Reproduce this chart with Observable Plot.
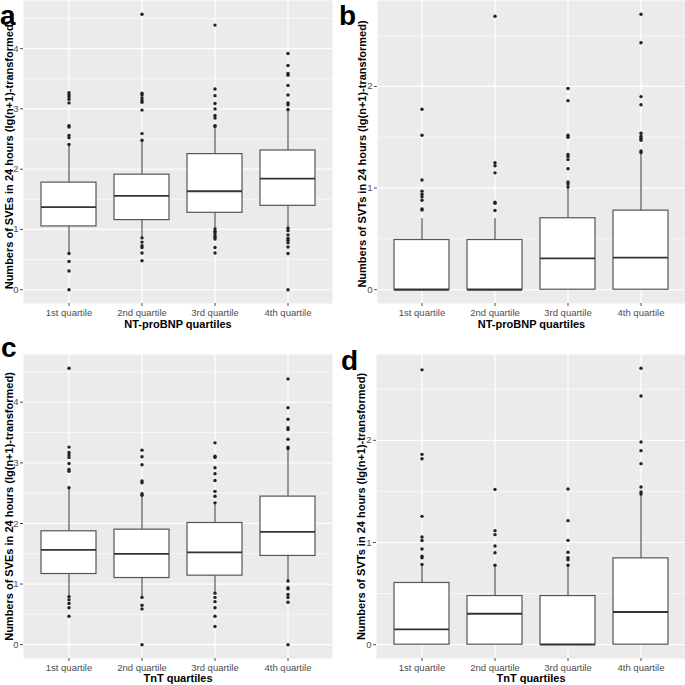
<!DOCTYPE html>
<html><head><meta charset="utf-8">
<script src="https://cdn.jsdelivr.net/npm/d3@7"></script>
<script src="https://cdn.jsdelivr.net/npm/@observablehq/plot@0.6"></script>
<style>
body{margin:0;background:#fff;}
#fig{position:relative;width:685px;height:685px;overflow:hidden;font-family:"Liberation Sans",Arial,sans-serif;}
.panel{position:absolute;}
.tag{position:absolute;font:bold 28px "Liberation Sans",Arial,sans-serif;color:#000;line-height:1.15;}
</style></head><body>
<div id="fig"></div>
<script>
const quartiles = ["1st quartile", "2nd quartile", "3rd quartile", "4th quartile"];
const sveTicks = [0, 1, 2, 3, 4];
const sveMinorTicks = [0.5, 1.5, 2.5, 3.5, 4.5];
const svtTicks = [0, 1, 2];
const svtMinorTicks = [0.5, 1.5, 2.5];
const sveTitle = "Numbers of SVEs in 24 hours (lg(n+1)-transformed)";
const svtTitle = "Numbers of SVTs in 24 hours (lg(n+1)-transformed)";
const bnpTitle = "NT-proBNP quartiles";
const tntTitle = "TnT quartiles";
const panelTags = ["a", "b", "c", "d"];

// a: SVEs by NT-proBNP quartiles
const aQ1 = [1.05, 1.155, 1.276, 1.392];
const aMedian = [1.37, 1.557, 1.634, 1.843];
const aQ3 = [1.777, 1.909, 2.25, 2.31];
const aLow = [0.60, 0.86, 1.01, 1.02];
const aHigh = [2.41, 2.48, 2.71, 2.99];
const aOutliers = [
  [3.27, 3.23, 3.20, 3.16, 3.10, 2.72, 2.70, 2.56, 2.52, 2.41, 0.60, 0.47, 0.31, 0],
  [4.57, 3.26, 3.23, 3.18, 3.14, 3.11, 2.98, 2.59, 2.48, 0.86, 0.79, 0.73, 0.70, 0.61, 0.48],
  [4.39, 3.33, 3.22, 3.09, 3.00, 2.89, 2.85, 2.72, 2.71, 1.01, 0.97, 0.94, 0.90, 0.87, 0.84, 0.70, 0.61],
  [3.92, 3.72, 3.59, 3.56, 3.39, 3.23, 3.10, 3.07, 2.99, 1.02, 0.98, 0.91, 0.85, 0.82, 0.78, 0.71, 0.60, 0]
];

// b: SVTs by NT-proBNP quartiles
const bQ1 = [0, 0, 0, 0];
const bMedian = [0, 0, 0.309, 0.316];
const bQ3 = [0.489, 0.489, 0.703, 0.778];
const bLow = [0, 0, 0, 0];
const bHigh = [0.70, 0.70, 1.01, 1.35];
const bOutliers = [
  [1.775, 1.52, 1.08, 0.97, 0.94, 0.915, 0.88, 0.795, 0.785],
  [2.69, 1.25, 1.22, 1.15, 0.86, 0.85, 0.78],
  [1.98, 1.86, 1.52, 1.50, 1.33, 1.31, 1.28, 1.19, 1.06, 1.04, 1.01],
  [2.71, 2.43, 1.90, 1.82, 1.54, 1.51, 1.49, 1.47, 1.365, 1.35]
];

// c: SVEs by TnT quartiles
const cQ1 = [1.166, 1.10, 1.139, 1.464];
const cMedian = [1.563, 1.497, 1.524, 1.86];
const cQ3 = [1.871, 1.898, 2.008, 2.443];
const cLow = [0.79, 0.78, 0.85, 1.05];
const cHigh = [2.59, 2.465, 2.34, 3.235];
const cOutliers = [
  [4.56, 3.26, 3.17, 3.13, 3.09, 2.99, 2.89, 2.86, 2.59, 0.79, 0.74, 0.68, 0.61, 0.47],
  [3.21, 3.10, 2.97, 2.70, 2.67, 2.49, 2.465, 0.78, 0.65, 0.59, 0],
  [3.33, 3.11, 3.09, 2.92, 2.82, 2.71, 2.53, 2.45, 2.34, 0.85, 0.78, 0.71, 0.61, 0.47, 0.30],
  [4.385, 3.91, 3.72, 3.58, 3.55, 3.39, 3.26, 3.235, 1.05, 0.94, 0.92, 0.83, 0.78, 0.70, 0]
];

// d: SVTs by TnT quartiles
const dQ1 = [0, 0, 0, 0];
const dMedian = [0.15, 0.303, 0, 0.32];
const dQ3 = [0.604, 0.476, 0.476, 0.845];
const dLow = [0, 0, 0, 0];
const dHigh = [0.786, 0.777, 0.777, 1.462];
const dOutliers = [
  [2.69, 1.863, 1.82, 1.256, 1.054, 1.02, 0.936, 0.865, 0.85, 0.786],
  [1.52, 1.116, 1.077, 0.966, 0.90, 0.777],
  [1.524, 1.214, 1.021, 0.904, 0.852, 0.832, 0.777],
  [2.705, 2.434, 1.984, 1.899, 1.772, 1.543, 1.494, 1.475]
];

const FONT = '"Liberation Sans", Arial, sans-serif';

function boxPanel(s, L) {
  const rows = quartiles.map((q, i) => ({q, q1: s.q1[i], median: s.median[i], q3: s.q3[i], low: s.low[i], high: s.high[i]}));
  const pts = quartiles.flatMap((q, i) => s.outliers[i].map(v => ({q, v})));
  const all = [...s.q1, ...s.q3, ...s.low, ...s.high, ...s.outliers.flat()];
  const [lo, hi] = d3.extent(all);
  const pad = (hi - lo) * 0.05;
  return Plot.plot({
    width: L.width, height: L.height,
    marginTop: L.mt, marginRight: L.mr, marginBottom: L.mb, marginLeft: L.ml,
    style: {fontFamily: FONT, background: "transparent", overflow: "visible"},
    x: {domain: quartiles, paddingInner: 0.25, paddingOuter: 0.225, axis: null, label: null},
    y: {domain: [lo - pad, hi + pad], axis: null, label: null},
    marks: [
      Plot.frame({fill: "#EBEBEB", stroke: "none"}),
      Plot.gridY(s.minor, {stroke: "white", strokeOpacity: 1, strokeWidth: 0.6}),
      Plot.gridY(s.ticks, {stroke: "white", strokeOpacity: 1, strokeWidth: 1.2}),
      Plot.gridX({stroke: "white", strokeOpacity: 1, strokeWidth: 1.2}),
      Plot.axisY(s.ticks, {tickSize: 3, tickPadding: 2, fontSize: 9.5, color: "#4D4D4D", tickFormat: d => String(d), label: null}),
      Plot.axisX({tickSize: 3, tickPadding: 3, fontSize: 9.5, color: "#4D4D4D", label: null}),
      Plot.ruleX(rows, {x: "q", y1: "q3", y2: "high", stroke: "#444", strokeWidth: 1.1}),
      Plot.ruleX(rows, {x: "q", y1: "q1", y2: "low", stroke: "#444", strokeWidth: 1.1}),
      Plot.barY(rows, {x: "q", y1: "q1", y2: "q3", fill: "white", stroke: "#555", strokeWidth: 1.2}),
      Plot.tickY(rows, {x: "q", y: "median", stroke: "#333", strokeWidth: 1.8}),
      Plot.dot(pts, {x: "q", y: "v", r: 1.7, fill: "#222", stroke: "none"}),
      Plot.text([s.xLabel], {frameAnchor: "bottom", dy: L.xdy, textAnchor: "middle", lineAnchor: "middle", fontSize: 11, fontWeight: "bold", fill: "black"}),
      Plot.text([s.yLabel], {frameAnchor: "left", dx: L.ydx, dy: L.ydy, rotate: -90, textAnchor: "middle", lineAnchor: "middle", fontSize: 11, fontWeight: "bold", fill: "black"})
    ]
  });
}

const panels = [
  {q1: aQ1, median: aMedian, q3: aQ3, low: aLow, high: aHigh, outliers: aOutliers, ticks: sveTicks, minor: sveMinorTicks, yLabel: sveTitle, xLabel: bnpTitle},
  {q1: bQ1, median: bMedian, q3: bQ3, low: bLow, high: bHigh, outliers: bOutliers, ticks: svtTicks, minor: svtMinorTicks, yLabel: svtTitle, xLabel: bnpTitle},
  {q1: cQ1, median: cMedian, q3: cQ3, low: cLow, high: cHigh, outliers: cOutliers, ticks: sveTicks, minor: sveMinorTicks, yLabel: sveTitle, xLabel: tntTitle},
  {q1: dQ1, median: dMedian, q3: dQ3, low: dLow, high: dHigh, outliers: dOutliers, ticks: svtTicks, minor: svtMinorTicks, yLabel: svtTitle, xLabel: tntTitle}
];
const layouts = [
  {left: 0, top: 0, width: 340, height: 340, mt: 0, mr: 8, mb: 37, ml: 23, xdy: 20.5, ydx: -14.5, ydy: 3, tagLeft: 0, tagTop: 0},
  {left: 340, top: 0, width: 345, height: 340, mt: 0, mr: 0, mb: 37, ml: 37, xdy: 20.5, ydx: -15.5, ydy: 2, tagLeft: 339, tagTop: 0},
  {left: 0, top: 340, width: 340, height: 345, mt: 14, mr: 8, mb: 27, ml: 23, xdy: 20, ydx: -14.5, ydy: 0, tagLeft: 1, tagTop: 332},
  {left: 340, top: 340, width: 345, height: 345, mt: 14, mr: 0, mb: 27, ml: 36, xdy: 20, ydx: -15, ydy: 0, tagLeft: 341, tagTop: 345}
];

const fig = document.getElementById("fig");
panels.forEach((p, i) => {
  const L = layouts[i];
  const wrap = document.createElement("div");
  wrap.className = "panel";
  wrap.style.left = L.left + "px";
  wrap.style.top = L.top + "px";
  wrap.appendChild(boxPanel(p, L));
  fig.appendChild(wrap);
});
panels.forEach((p, i) => {
  const L = layouts[i];
  const tag = document.createElement("div");
  tag.className = "tag";
  tag.textContent = panelTags[i];
  tag.style.left = L.tagLeft + "px";
  tag.style.top = L.tagTop + "px";
  fig.appendChild(tag);
});
</script></body></html>
